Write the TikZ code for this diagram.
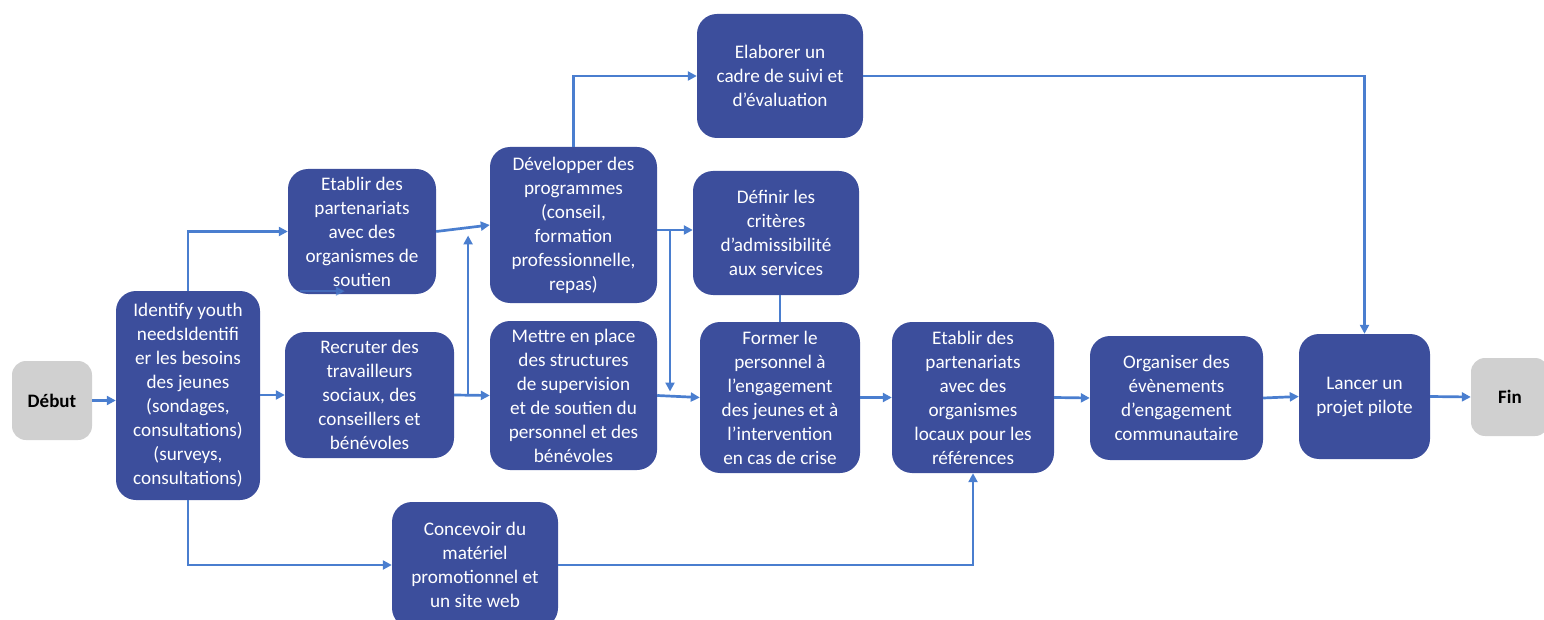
\documentclass[tikz,border=0pt]{standalone}
\usepackage{fontspec}
\setmainfont{Carlito}
\usetikzlibrary{arrows.meta,calc}
\definecolor{boxblue}{HTML}{3C4E9C}
\definecolor{linkblue}{HTML}{4A7ECF}
\definecolor{endgray}{HTML}{D0D0D0}
\tikzset{
  stepbox/.style={rounded corners=20pt, fill=boxblue, text=white, align=center,
    font=\fontsize{19.2}{24}\selectfont, inner sep=2pt},
  endbox/.style={rounded corners=14pt, fill=endgray, text=black, align=center,
    font=\fontsize{19}{24}\selectfont\bfseries, inner sep=2pt},
  arr/.style={draw=linkblue, line width=2.7pt, -{Triangle[width=9pt,length=9pt]}},
  plain/.style={draw=linkblue, line width=2.7pt}
}
\begin{document}
\begin{tikzpicture}[x=1pt,y=-1pt]
\useasboundingbox (0,0) rectangle (1544,620);
% nodes
\node[endbox, minimum width=80pt, minimum height=79pt] (debut) at (52,400.5) {Début};
\node[stepbox, minimum width=144pt, minimum height=209pt] (ident) at (188,395.5)
  {Identify youth\\needsIdentifi\\er les besoins\\des jeunes\\(sondages,\\consultations)\\(surveys,\\consultations)};
\node[stepbox, minimum width=148pt, minimum height=125pt] (sout) at (362,231.5)
  {Etablir des\\partenariats\\avec des\\organismes de\\soutien};
\node[stepbox, minimum width=169pt, minimum height=126pt] (recr) at (369.5,395)
  {Recruter des\\travailleurs\\sociaux, des\\conseillers et\\bénévoles};
\node[stepbox, minimum width=167pt, minimum height=156pt] (dev) at (573.5,225)
  {Développer des\\programmes\\(conseil,\\formation\\professionnelle,\\repas)};
\node[stepbox, minimum width=167pt, minimum height=149pt] (mett) at (573.5,395.5)
  {Mettre en place\\des structures\\de supervision\\et de soutien du\\personnel et des\\bénévoles};
\node[stepbox, minimum width=166pt, minimum height=124pt] (elab) at (780,76)
  {Elaborer un\\cadre de suivi et\\d’évaluation};
\node[stepbox, minimum width=166pt, minimum height=124pt] (def) at (776,233)
  {Définir les\\critères\\d’admissibilité\\aux services};
\node[stepbox, minimum width=160pt, minimum height=151pt] (form) at (780,397.5)
  {Former le\\personnel à\\l’engagement\\des jeunes et à\\l’intervention\\en cas de crise};
\node[stepbox, minimum width=162pt, minimum height=151pt] (loc) at (973,397.5)
  {Etablir des\\partenariats\\avec des\\organismes\\locaux pour les\\références};
\node[stepbox, minimum width=173pt, minimum height=124pt] (org) at (1176.5,398)
  {Organiser des\\évènements\\d’engagement\\communautaire};
\node[stepbox, minimum width=131pt, minimum height=125pt] (lanc) at (1364.5,396.5)
  {Lancer un\\projet pilote};
\node[endbox, minimum width=78pt, minimum height=78pt] (fin) at (1510,397) {Fin};
\node[stepbox, minimum width=166pt, minimum height=126pt] (conc) at (475,565)
  {Concevoir du\\matériel\\promotionnel et\\un site web};
% connectors
\draw[arr] (debut.east) -- (debut.east -| ident.west);
\draw[arr] (ident.east |- recr.west) -- (recr.west);
\draw[arr] (ident.north) |- (sout.west);
\draw[arr] (ident.south) |- (conc.west);
\draw[arr] (sout.east) -- (dev.west);
\draw[arr] (recr.east) -- (mett.west);
\coordinate (j1) at ($(recr.east)!0.39!(mett.west)$);
\draw[arr, shorten >=4pt] (j1) -- (j1 |- sout.east);
\draw[arr] (dev.north) |- (elab.west);
\draw[arr] (elab.east) -| (lanc.north);
\coordinate (d1) at ($(dev.east)+(0,5)$);
\draw[arr] (d1) -- (d1 -| def.west);
\coordinate (j2) at ($(d1)!0.36!(d1 -| def.west)$);
\draw[arr, shorten >=4pt] (j2) -- (j2 |- mett.east);
\draw[arr] (mett.east) -- (form.west);
\draw[plain] (form.north |- def.south) -- (form.north);
\draw[arr] (form.east) -- (loc.west);
\draw[arr] (conc.east) -| (loc.south);
\draw[arr] (loc.east) -- (org.west);
\draw[arr] (org.east) -- (lanc.west);
\draw[arr] (lanc.east) -- (fin.west);
\coordinate (s1) at ($(sout.south west)+(12,-3)$);
\draw[arr, draw opacity=0.6, fill opacity=0.6, line width=1.6pt] (s1) -- ($(s1)+(45,0)$);
\end{tikzpicture}
\end{document}
